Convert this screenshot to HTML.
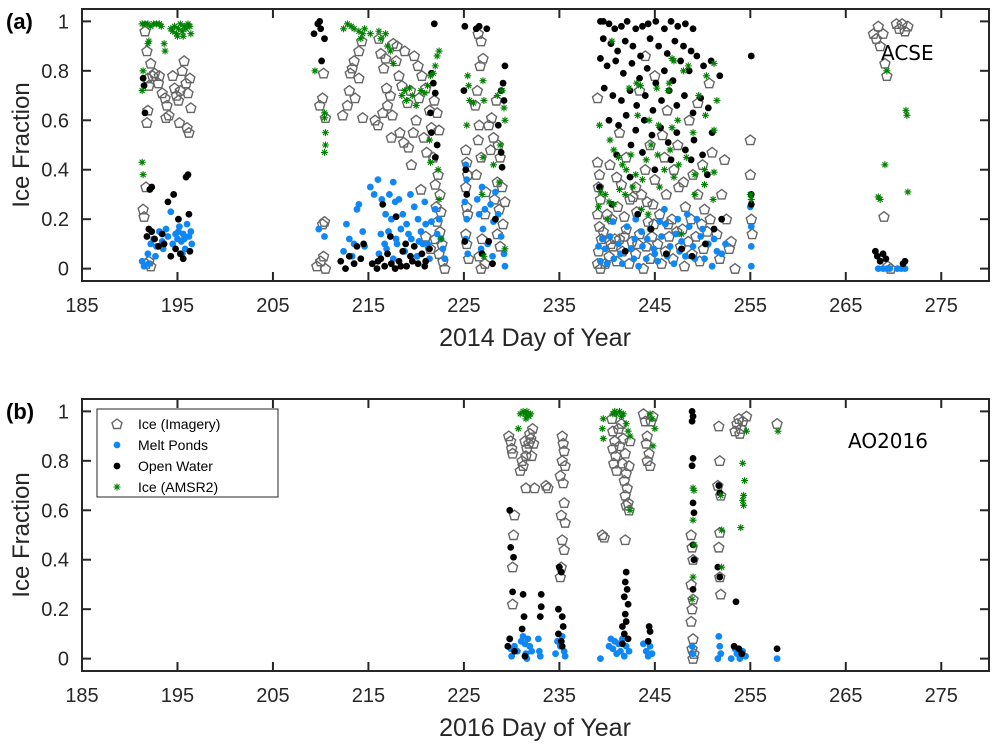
<!DOCTYPE html>
<html><head><meta charset="utf-8"><style>
body{margin:0;background:#fff;}
svg{display:block;font-family:"Liberation Sans",Arial,sans-serif;}
.tk{font-size:20px;fill:#262626;}
.ttl{fill:#262626;}
</style></head><body>
<svg id="chart" width="1000" height="751" viewBox="0 0 1000 751">
<g id="pa"></g>
<g id="pb"></g>
</svg>
<script>
// ---------- data ----------
const xTicks=[185,195,205,215,225,235,245,255,265,275];
const yTicks=[0,0.2,0.4,0.6,0.8,1];
const yTickLabels=["0","0.2","0.4","0.6","0.8","1"];
const legendLabels=["Ice (Imagery)","Melt Ponds","Open Water","Ice (AMSR2)"];
// Panel (a) 2014 ACSE
const aIce=[[191.6,0.96],[191.8,0.88],[192.2,0.83],[192.4,0.78],[191.9,0.77],[192.6,0.79],[193.1,0.78],[193.4,0.71],[193.7,0.69],[193.9,0.66],[194.1,0.62],[194.5,0.78],[194.7,0.73],[194.9,0.7],[195.1,0.68],[195.3,0.72],[195.5,0.8],[195.7,0.84],[195.9,0.75],[196.1,0.71],[196.3,0.77],[196.4,0.65],[196.2,0.55],[196.0,0.57],[195.2,0.59],[193.8,0.61],[191.9,0.64],[191.8,0.59],[192.0,0.74],[193.0,0.75],[191.7,0.33],[191.4,0.24],[191.5,0.21],[191.7,0.02],[192.2,0.01],[192.0,0.03],[209.6,0.01],[210.0,0.03],[210.3,0.05],[210.5,0.0],[210.2,0.18],[210.4,0.19],[209.9,0.66],[210.2,0.69],[210.5,0.61],[210.3,0.79],[212.3,0.62],[212.8,0.66],[213.0,0.72],[213.6,0.69],[213.3,0.81],[213.5,0.84],[214.0,0.88],[213.1,0.79],[214.3,0.92],[214.0,0.77],[214.4,0.61],[216.1,0.93],[216.3,0.87],[216.6,0.81],[216.9,0.73],[217.3,0.7],[217.0,0.66],[216.5,0.63],[217.5,0.62],[217.9,0.84],[218.2,0.78],[218.5,0.74],[218.8,0.88],[219.1,0.67],[219.4,0.72],[219.7,0.55],[220.0,0.6],[220.3,0.69],[220.6,0.78],[220.8,0.53],[221.1,0.47],[221.4,0.64],[221.6,0.57],[218.3,0.55],[218.7,0.51],[219.2,0.49],[219.5,0.42],[216.0,0.58],[215.7,0.6],[217.4,0.53],[216.8,0.85],[217.6,0.91],[218.0,0.9],[219.8,0.86],[220.2,0.82],[221.0,0.73],[221.9,0.68],[222.2,0.63],[222.4,0.56],[221.8,0.45],[222.3,0.38],[222.0,0.34],[222.5,0.3],[222.1,0.25],[222.6,0.23],[222.2,0.19],[222.5,0.15],[222.0,0.12],[222.7,0.1],[222.4,0.06],[222.8,0.03],[223.0,0.0],[221.5,0.08],[221.0,0.13],[220.5,0.32],[225.2,0.48],[225.3,0.43],[225.4,0.38],[225.2,0.33],[225.3,0.25],[225.4,0.22],[225.2,0.14],[225.3,0.1],[225.5,0.04],[226.5,0.95],[226.8,0.92],[227.0,0.85],[226.7,0.82],[226.4,0.72],[226.2,0.66],[226.6,0.58],[226.5,0.52],[226.8,0.45],[226.3,0.38],[227.3,0.31],[227.2,0.22],[226.9,0.12],[226.6,0.05],[226.8,0.0],[227.2,0.02],[227.6,0.58],[227.9,0.61],[228.1,0.53],[227.8,0.48],[228.4,0.68],[228.6,0.5],[228.8,0.45],[228.5,0.35],[228.2,0.28],[228.7,0.24],[229.1,0.18],[229.3,0.27],[229.0,0.33],[228.5,0.14],[228.8,0.09],
[239.0,0.43],[239.2,0.38],[239.1,0.33],[239.3,0.28],[239.0,0.22],[239.2,0.17],[239.4,0.12],[239.1,0.07],[239.0,0.02],[239.3,0.0],[239.0,0.69],[239.8,0.02],[240.2,0.05],[240.6,0.09],[241.0,0.03],[241.3,0.12],[241.6,0.07],[242.0,0.16],[242.3,0.02],[242.6,0.11],[243.0,0.06],[243.4,0.14],[243.8,0.0],[244.1,0.09],[244.5,0.04],[244.9,0.18],[245.3,0.1],[245.7,0.02],[246.1,0.07],[246.5,0.13],[246.9,0.04],[247.3,0.15],[247.7,0.09],[248.1,0.01],[248.5,0.11],[248.9,0.06],[249.3,0.13],[249.7,0.03],[250.1,0.08],[250.5,0.15],[240.0,0.22],[240.5,0.2],[241.1,0.25],[241.8,0.21],[242.4,0.28],[243.1,0.23],[243.6,0.3],[244.3,0.19],[244.8,0.26],[245.5,0.22],[246.2,0.3],[246.8,0.2],[247.5,0.33],[248.2,0.25],[248.8,0.2],[249.5,0.3],[250.2,0.24],[250.8,0.2],[240.3,0.42],[241.0,0.37],[242.0,0.45],[243.0,0.33],[244.0,0.4],[245.0,0.36],[246.0,0.45],[247.0,0.4],[248.0,0.35],[249.0,0.38],[250.0,0.42],[251.0,0.47],[244.5,0.5],[245.8,0.54],[247.4,0.5],[248.6,0.6],[246.3,0.64],[249.5,0.67],[250.7,0.75],[241.3,0.55],[242.7,0.29],[251.5,0.14],[251.8,0.04],[252.0,0.3],[252.3,0.44],[252.5,0.2],[252.8,0.08],[253.0,0.11],[253.4,0.0],[244.0,0.86],[245.0,0.78],[243.4,0.72],[240.8,0.12],[247.9,0.16],[239.6,0.15],[240.4,0.1],[241.8,0.13],[243.2,0.1],[244.7,0.13],[246.4,0.18],[249.9,0.18],[241.5,0.34],[244.2,0.27],[255.0,0.52],[255.0,0.38],[255.1,0.2],[255.2,0.14],
[267.9,0.95],[268.2,0.93],[268.4,0.98],[268.6,0.9],[268.9,0.95],[269.1,0.83],[269.3,0.78],[270.3,0.99],[270.6,0.97],[270.9,0.99],[271.2,0.96],[271.5,0.98],[269.0,0.21],[269.4,0.01],[269.7,0.0]];
const aPond=[[191.3,0.03],[191.5,0.01],[192.0,0.02],[191.9,0.06],[192.2,0.1],[192.5,0.12],[192.8,0.09],[193.1,0.15],[193.4,0.11],[193.8,0.16],[194.0,0.13],[194.3,0.23],[194.5,0.1],[194.8,0.14],[195.0,0.12],[195.2,0.17],[195.4,0.11],[195.6,0.14],[195.8,0.08],[196.0,0.18],[196.2,0.13],[196.4,0.15],[196.5,0.1],[193.5,0.08],[192.7,0.05],[195.5,0.06],[195.1,0.15],[195.7,0.12],[209.8,0.16],[210.4,0.13],[212.4,0.07],[213.0,0.12],[213.5,0.1],[213.8,0.24],[214.0,0.26],[214.4,0.15],[214.6,0.09],[212.7,0.18],[213.3,0.05],[215.2,0.33],[215.6,0.3],[216.0,0.36],[216.4,0.28],[216.8,0.22],[217.2,0.3],[217.6,0.35],[217.1,0.15],[216.3,0.14],[216.7,0.1],[217.4,0.2],[217.9,0.12],[218.2,0.28],[218.6,0.22],[219.0,0.18],[219.4,0.3],[219.8,0.25],[220.2,0.2],[220.5,0.15],[220.9,0.27],[221.2,0.1],[221.6,0.19],[222.0,0.24],[222.4,0.2],[222.8,0.08],[223.0,0.04],[218.0,0.1],[218.8,0.07],[219.5,0.12],[220.1,0.05],[220.7,0.1],[221.4,0.04],[222.2,0.14],[216.1,0.06],[217.6,0.04],[216.9,0.08],[218.4,0.16],[219.2,0.14],[220.3,0.11],[221.0,0.18],[222.6,0.12],[217.8,0.27],[225.2,0.42],[225.3,0.36],[225.1,0.27],[225.3,0.2],[225.2,0.12],[225.4,0.06],[226.4,0.28],[226.6,0.22],[226.9,0.33],[227.2,0.24],[227.0,0.16],[226.8,0.08],[227.5,0.1],[227.8,0.26],[228.1,0.19],[228.3,0.31],[228.6,0.22],[228.9,0.13],[229.2,0.06],[229.3,0.01],[228.0,0.05],
[239.1,0.09],[239.3,0.03],[239.8,0.08],[240.3,0.13],[240.7,0.04],[241.2,0.1],[241.6,0.02],[242.1,0.17],[242.5,0.08],[242.9,0.12],[243.3,0.01],[243.7,0.09],[244.1,0.04],[244.5,0.16],[244.9,0.08],[245.3,0.03],[245.7,0.13],[246.1,0.18],[246.6,0.09],[247.0,0.02],[247.4,0.2],[247.8,0.11],[248.2,0.05],[248.6,0.17],[249.0,0.09],[249.4,0.2],[249.8,0.13],[250.2,0.04],[250.6,0.1],[251.0,0.01],[251.5,0.07],[252.0,0.06],[240.6,0.19],[243.0,0.2],[246.0,0.24],[248.4,0.22],[244.2,0.12],[239.5,0.12],[240.0,0.02],[241.4,0.06],[242.8,0.04],[243.6,0.15],[245.0,0.06],[246.3,0.05],[247.6,0.07],[249.2,0.04],[250.0,0.16],[251.2,0.12],[252.4,0.1],[245.5,0.19],[247.2,0.14],[255.0,0.25],[255.1,0.17],[255.1,0.09],[255.1,0.01],[268.4,0.0],[268.9,0.0],[269.3,0.0],[269.6,0.0],[270.4,0.0],[270.8,0.0],[271.2,0.0]];
const aWater=[[191.4,0.77],[191.5,0.74],[191.6,0.63],[192.1,0.32],[192.3,0.33],[192.0,0.16],[191.8,0.13],[192.3,0.15],[192.6,0.12],[193.0,0.09],[193.4,0.14],[194.0,0.27],[194.6,0.3],[194.8,0.08],[195.1,0.2],[195.3,0.06],[195.6,0.04],[195.9,0.37],[196.1,0.38],[196.2,0.22],[196.3,0.07],[193.6,0.1],[194.3,0.05],[209.3,0.95],[209.7,0.99],[209.9,1.0],[210.0,0.97],[210.1,0.84],[210.4,0.93],[212.1,0.03],[212.6,0.0],[213.0,0.05],[213.5,0.02],[213.8,0.09],[214.2,0.04],[214.5,0.1],[215.4,0.02],[215.9,0.0],[216.3,0.04],[216.7,0.01],[217.0,0.06],[217.4,0.02],[217.8,0.0],[218.2,0.03],[218.6,0.07],[219.0,0.01],[219.4,0.05],[219.8,0.09],[220.2,0.02],[220.6,0.06],[221.0,0.03],[221.4,0.08],[217.3,0.13],[218.9,0.1],[216.5,0.26],[217.9,0.21],[216.0,0.03],[218.4,0.01],[219.6,0.03],[220.9,0.01],[221.9,0.99],[221.6,0.79],[221.8,0.75],[222.0,0.71],[221.6,0.55],[222.2,0.5],[222.0,0.45],[221.5,0.63],[225.1,0.98],[225.0,0.72],[225.2,0.4],[225.3,0.3],[225.1,0.11],[226.3,0.97],[226.6,0.98],[227.4,0.97],[228.9,0.72],[229.1,0.75],[229.2,0.68],[228.6,0.58],[228.9,0.47],[229.3,0.82],[229.0,0.41],[228.3,0.2],[227.6,0.11],[226.9,0.06],[228.0,0.02],
[239.3,1.0],[239.6,1.0],[240.2,0.99],[240.8,0.97],[241.5,0.98],[242.1,1.0],[243.0,0.97],[243.7,0.98],[244.3,0.99],[245.1,1.0],[246.0,0.97],[246.7,1.0],[247.4,0.98],[248.2,0.99],[249.0,0.97],[239.6,0.93],[240.4,0.91],[241.1,0.88],[241.9,0.92],[242.7,0.9],[243.5,0.86],[244.5,0.93],[245.4,0.9],[246.3,0.87],[247.1,0.92],[248.0,0.9],[248.8,0.88],[239.3,0.85],[240.0,0.82],[240.9,0.84],[241.7,0.79],[242.6,0.83],[243.4,0.77],[244.2,0.81],[245.1,0.75],[246.0,0.8],[246.9,0.76],[247.7,0.84],[248.6,0.8],[249.4,0.86],[250.1,0.82],[250.9,0.84],[251.8,0.78],[239.7,0.73],[240.6,0.7],[241.5,0.68],[242.4,0.72],[243.1,0.66],[244.0,0.7],[244.8,0.64],[245.7,0.68],[246.5,0.72],[247.3,0.66],[248.1,0.7],[249.0,0.63],[249.8,0.69],[250.6,0.65],[240.2,0.6],[241.2,0.58],[242.0,0.62],[243.0,0.56],[243.9,0.6],[244.7,0.54],[245.6,0.57],[246.4,0.51],[247.3,0.55],[248.2,0.48],[249.1,0.52],[250.0,0.46],[241.0,0.46],[242.5,0.5],[243.7,0.47],[245.0,0.4],[246.7,0.44],[248.8,0.44],[250.5,0.38],[239.2,0.33],[240.5,0.26],[243.2,0.22],[244.6,0.16],[246.2,0.06],[247.8,0.08],[248.9,0.05],[250.3,0.1],[251.2,0.16],[241.9,0.07],[252.0,0.2],[251.0,0.55],[242.4,0.37],[255.1,0.86],[255.1,0.3],[255.1,0.26],[268.1,0.07],[268.3,0.05],[268.6,0.03],[268.9,0.06],[269.2,0.04],[271.0,0.02],[271.2,0.03]];
const aAmsr=[[191.3,0.99],[191.6,0.99],[191.9,0.99],[192.2,0.98],[192.5,0.99],[192.8,0.99],[193.1,0.99],[193.3,0.98],[194.3,0.97],[194.5,0.96],[194.7,0.98],[194.9,0.95],[195.1,0.97],[195.3,0.99],[195.5,0.96],[195.7,0.98],[195.9,0.97],[196.1,0.99],[196.3,0.98],[196.4,0.95],[195.0,0.94],[195.6,0.94],[192.0,0.92],[191.9,0.91],[193.6,0.91],[193.7,0.88],[191.3,0.72],[191.4,0.8],[191.3,0.43],[191.4,0.38],[209.4,0.8],[210.4,0.63],[210.4,0.61],[210.5,0.55],[210.5,0.5],[210.4,0.47],[212.4,0.97],[212.8,0.99],[213.2,0.98],[213.5,0.97],[214.0,0.96],[214.2,0.93],[214.4,0.95],[214.6,0.97],[215.2,0.95],[216.1,0.96],[216.3,0.93],[216.8,0.95],[217.0,0.9],[217.3,0.88],[217.6,0.83],[218.5,0.7],[218.8,0.72],[219.0,0.68],[219.3,0.73],[219.6,0.7],[220.0,0.66],[220.5,0.72],[220.9,0.71],[221.2,0.74],[221.5,0.78],[221.8,0.79],[222.0,0.82],[222.2,0.86],[222.4,0.88],[221.4,0.52],[221.5,0.43],[222.3,0.4],[222.4,0.28],[222.6,0.12],[225.4,0.78],[225.5,0.74],[225.6,0.68],[226.0,0.67],[227.0,0.76],[227.1,0.68],[225.3,0.58],[228.5,0.7],[229.0,0.72],[229.2,0.65],[229.3,0.6],[228.8,0.5],[228.1,0.42],[227.0,0.45],[226.9,0.3],[228.7,0.35],[229.3,0.08],[227.1,0.05],
[240.5,0.92],[242.3,0.73],[243.1,0.75],[243.5,0.74],[245.2,0.73],[246.5,0.75],[246.4,0.72],[246.8,0.85],[247.0,0.84],[248.0,0.8],[248.5,0.82],[249.6,0.7],[250.4,0.78],[251.2,0.83],[251.5,0.68],[243.2,0.62],[244.4,0.6],[245.4,0.58],[246.8,0.57],[247.4,0.6],[249.0,0.55],[250.3,0.62],[251.2,0.56],[239.2,0.58],[240.3,0.52],[240.7,0.48],[241.2,0.45],[241.6,0.42],[242.0,0.4],[242.5,0.46],[243.0,0.38],[243.7,0.36],[244.1,0.44],[244.6,0.5],[245.3,0.46],[246.0,0.4],[246.6,0.48],[247.5,0.42],[248.3,0.45],[249.2,0.38],[250.2,0.4],[251.2,0.39],[239.3,0.31],[239.8,0.3],[240.2,0.27],[240.7,0.26],[241.3,0.32],[241.9,0.3],[242.7,0.33],[243.6,0.24],[244.3,0.22],[245.5,0.33],[247.0,0.37],[249.2,0.3],[250.2,0.34],[251.1,0.28],[240.0,0.2],[247.8,0.14],[239.1,0.25],[255.0,0.3],[255.1,0.28],[268.4,0.29],[268.6,0.28],[269.1,0.42],[269.3,0.8],[271.3,0.64],[271.4,0.62],[271.5,0.31]];
// Panel (b) 2016 AO2016
const bIce=[[229.7,0.9],[229.9,0.88],[230.0,0.85],[230.1,0.83],[230.3,0.58],[230.2,0.5],[230.1,0.37],[230.1,0.22],[230.9,0.76],[231.2,0.78],[231.5,0.82],[231.6,0.85],[231.8,0.87],[232.0,0.89],[231.4,0.88],[231.9,0.91],[232.2,0.93],[232.3,0.87],[232.1,0.82],[231.1,0.8],[231.5,0.69],[232.4,0.69],[233.6,0.7],[233.8,0.69],[235.3,0.9],[235.4,0.87],[235.5,0.84],[235.3,0.8],[235.6,0.78],[235.1,0.74],[235.4,0.71],[235.5,0.63],[235.2,0.58],[235.6,0.55],[235.3,0.48],[235.5,0.44],[235.2,0.37],[235.1,0.33],[239.5,0.5],[239.7,0.49],[240.5,0.97],[240.6,0.92],[240.8,0.88],[240.6,0.85],[240.9,0.82],[240.7,0.79],[241.0,0.76],[241.2,0.93],[241.5,0.95],[241.7,0.89],[241.3,0.86],[241.9,0.83],[241.6,0.79],[242.0,0.75],[241.8,0.72],[242.1,0.69],[241.9,0.66],[242.2,0.63],[242.0,0.62],[242.3,0.6],[242.3,0.78],[242.4,0.88],[241.9,0.48],[243.8,0.99],[244.0,0.96],[244.2,0.9],[244.1,0.87],[244.4,0.83],[244.2,0.8],[244.5,0.78],[244.6,0.96],[244.8,0.98],[248.8,0.5],[248.9,0.45],[249.0,0.4],[248.8,0.3],[249.0,0.24],[248.9,0.2],[248.8,0.15],[249.0,0.08],[248.9,0.04],[249.1,0.02],[249.0,0.0],[251.7,0.94],[251.8,0.8],[251.6,0.7],[251.9,0.66],[251.8,0.51],[251.7,0.45],[251.8,0.33],[251.9,0.26],[253.4,0.92],[253.6,0.95],[253.8,0.97],[254.0,0.93],[254.2,0.96],[254.6,0.98],[253.9,0.91],[257.8,0.95]];
const bPond=[[229.8,0.08],[229.9,0.04],[230.0,0.01],[230.3,0.05],[230.6,0.03],[231.0,0.07],[231.2,0.09],[231.4,0.06],[231.5,0.02],[231.7,0.08],[231.9,0.05],[232.1,0.03],[231.6,0.0],[232.8,0.08],[232.9,0.03],[233.0,0.01],[234.6,0.02],[234.8,0.07],[235.1,0.05],[235.3,0.09],[235.5,0.03],[235.6,0.01],[239.3,0.0],[240.2,0.05],[240.4,0.08],[240.6,0.04],[240.8,0.07],[241.0,0.02],[241.2,0.06],[241.4,0.03],[241.6,0.08],[241.8,0.01],[242.0,0.05],[242.3,0.03],[243.8,0.06],[244.1,0.03],[244.3,0.01],[244.5,0.05],[244.7,0.02],[248.9,0.05],[249.0,0.02],[251.7,0.09],[251.8,0.05],[251.9,0.02],[251.6,0.0],[253.0,0.0],[253.4,0.04],[253.6,0.02],[253.9,0.0],[254.2,0.03],[254.5,0.01],[257.8,0.0]];
const bWater=[[229.8,0.6],[229.9,0.45],[230.1,0.27],[230.2,0.41],[229.6,0.05],[229.8,0.08],[230.3,0.03],[231.2,0.26],[231.3,0.17],[231.1,0.12],[231.4,0.01],[233.1,0.26],[233.1,0.21],[233.0,0.17],[235.0,0.37],[235.2,0.35],[234.9,0.2],[235.3,0.17],[235.4,0.13],[234.9,0.1],[235.2,0.07],[235.3,0.05],[242.0,0.35],[241.9,0.31],[242.1,0.28],[241.8,0.25],[242.2,0.22],[241.9,0.18],[242.0,0.15],[241.6,0.13],[241.8,0.1],[242.2,0.08],[241.6,0.06],[244.4,0.13],[244.5,0.11],[244.3,0.07],[248.9,1.0],[249.0,0.98],[248.9,0.96],[249.0,0.81],[248.9,0.78],[249.0,0.63],[249.1,0.59],[249.0,0.46],[249.1,0.4],[249.0,0.28],[251.7,0.7],[251.8,0.67],[251.6,0.37],[251.8,0.33],[253.5,0.23],[253.3,0.05],[253.8,0.04],[254.1,0.02],[257.8,0.04]];
const bAmsr=[[230.9,0.99],[231.2,1.0],[231.4,0.99],[231.6,1.0],[231.8,0.98],[232.0,0.99],[231.5,0.97],[230.7,0.93],[239.6,0.97],[239.5,0.93],[239.6,0.89],[240.6,0.99],[240.8,1.0],[241.0,0.99],[241.3,1.0],[241.5,0.98],[241.7,0.99],[242.0,0.95],[242.2,0.92],[242.4,0.9],[242.4,0.6],[244.5,0.99],[244.7,0.97],[245.0,0.93],[244.8,0.86],[249.0,0.69],[249.1,0.68],[249.0,0.56],[249.1,0.46],[249.0,0.33],[248.9,0.24],[251.9,0.66],[252.0,0.52],[252.0,0.37],[254.2,0.79],[254.4,0.72],[254.3,0.66],[254.2,0.64],[254.3,0.62],[254.0,0.53],[254.6,0.92],[257.9,0.92]];

// ---------- drawing ----------
const NS="http://www.w3.org/2000/svg";
const X0=82,X1=989,XMIN=185,XMAX=280,YMIN=-0.05,YMAX=1.05;
function sx(d){return X0+(d-XMIN)/(XMAX-XMIN)*(X1-X0);}
function mk(tag,attrs,parent){const e=document.createElementNS(NS,tag);for(const k in attrs)e.setAttribute(k,attrs[k]);parent.appendChild(e);return e;}
function drawIce(g,x,y){return mk('polygon',{points:`${x},${y-5} ${x+5},${y-1.2} ${x+3.3},${y+4.5} ${x-3.3},${y+4.5} ${x-5},${y-1.2}`,fill:'none',stroke:'#666','stroke-width':1.4},g);}
function drawDot(g,x,y,c){return mk('circle',{cx:x,cy:y,r:3.4,fill:c},g);}
function drawStar(g,x,y){return mk('path',{d:`M${x-3.5},${y}H${x+3.5}M${x},${y-3.5}V${y+3.5}M${x-2.5},${y-2.5}L${x+2.5},${y+2.5}M${x-2.5},${y+2.5}L${x+2.5},${y-2.5}`,stroke:'#008000','stroke-width':1.1,fill:'none'},g);}
function panel(g,top,bottom,ice,pond,water,amsr,xlabel,tag,name,nameX,nameY,prefix){
  const sy=v=>bottom-(v-YMIN)/(YMAX-YMIN)*(bottom-top);
  const sg=mk('g',{},g);
  
  
  ice.forEach(p=>{const e=drawIce(sg,sx(p[0]),sy(p[1]));
    
    });
  pond.forEach(p=>{const e=drawDot(sg,sx(p[0]),sy(p[1]),'#0f87f5');
    
    });
  water.forEach(p=>{const e=drawDot(sg,sx(p[0]),sy(p[1]),'#000');
    
    });
  amsr.forEach(p=>{const e=drawStar(sg,sx(p[0]),sy(p[1]));
    
    });
  const box=mk('rect',{x:X0,y:top,width:X1-X0,height:bottom-top,fill:'none',stroke:'#262626','stroke-width':2},g);
  
  
  xTicks.forEach(t=>{const x=sx(t);
    mk('line',{x1:x,x2:x,y1:bottom,y2:bottom-9,stroke:'#262626','stroke-width':2},g);
    mk('line',{x1:x,x2:x,y1:top,y2:top+9,stroke:'#262626','stroke-width':2},g);
    const tl=mk('text',{x:x,y:bottom+31,'text-anchor':'middle',class:'tk'},g);tl.textContent=t;
    
    });
  yTicks.forEach((t,i)=>{const y=sy(t);
    mk('line',{x1:X0,x2:X0+9,y1:y,y2:y,stroke:'#262626','stroke-width':2},g);
    mk('line',{x1:X1,x2:X1-9,y1:y,y2:y,stroke:'#262626','stroke-width':2},g);
    const tl=mk('text',{x:X0-13,y:y+7,'text-anchor':'end',class:'tk'},g);tl.textContent=yTickLabels[i];
    
    });
  const xt=mk('text',{x:535,y:bottom+65,'text-anchor':'middle',class:'ttl','font-size':25},g);xt.textContent=xlabel;
  
  
  const cy=(top+bottom)/2;
  const yt=mk('text',{x:29,y:cy,'text-anchor':'middle',class:'ttl','font-size':24,transform:`rotate(-90 29 ${cy})`},g);yt.textContent='Ice Fraction';
  
  
  const pl=mk('text',{x:6,y:top+20,'font-size':22,'font-weight':'bold',fill:'#000'},g);pl.textContent=tag;
  
  
  const nm=mk('text',{x:nameX,y:nameY,'font-size':20,fill:'#000','font-family':'DejaVu Sans, sans-serif'},g);nm.textContent=name;
  
  
}
const pa=document.getElementById('pa'),pb=document.getElementById('pb');
panel(pa,9,281,aIce,aPond,aWater,aAmsr,'2014 Day of Year','(a)','ACSE',881,60,'panel-a');
panel(pb,399,671,bIce,bPond,bWater,bAmsr,'2016 Day of Year','(b)','AO2016',848,448,'panel-b');
// legend
const lg=mk('g',{},pb);


mk('rect',{x:97,y:409,width:181,height:88,fill:'#fff',stroke:'#262626','stroke-width':1},lg);
legendLabels.forEach((l,i)=>{const y=424+i*21;
  if(i===0)drawIce(lg,117,y);else if(i===1)drawDot(lg,117,y,'#0f87f5');else if(i===2)drawDot(lg,117,y,'#000');else drawStar(lg,117,y);
  const t=mk('text',{x:138,y:y+5,'font-size':14,fill:'#000'},lg);t.textContent=l;
  
  });
</script>
</body></html>
